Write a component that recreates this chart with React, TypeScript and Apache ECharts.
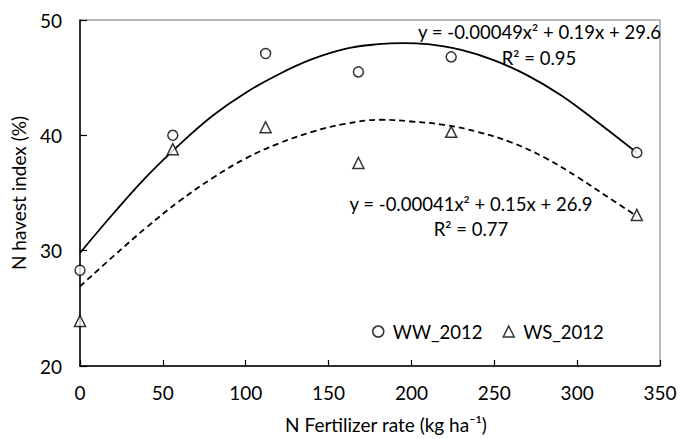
import React, { useEffect, useRef } from "react";
import * as echarts from "echarts";

const xRates = [0, 56, 112, 168, 224, 336];
const wwValues = [28.3, 40.0, 47.1, 45.5, 46.8, 38.5];
const wsValues = [23.9, 38.8, 40.7, 37.6, 40.3, 33.1];

const wwTrendX = [0, 20, 40, 60, 80, 100, 120, 140, 160, 180, 195, 210, 230, 250, 270, 290, 310, 336];
const wwTrend = [29.8, 33.2, 36.4, 39.2, 41.7, 43.7, 45.3, 46.6, 47.5, 47.9, 48.0, 47.9, 47.4, 46.5, 45.2, 43.5, 41.4, 38.5];
const wsTrendX = [0, 20, 40, 60, 80, 100, 120, 140, 160, 182, 200, 220, 240, 260, 280, 300, 320, 336];
const wsTrend = [26.9, 29.5, 32.0, 34.3, 36.3, 38.0, 39.3, 40.3, 41.0, 41.35, 41.2, 40.9, 40.3, 39.4, 38.1, 36.4, 34.5, 33.0];

const seriesNames = ["WW_2012", "WS_2012"];
const eqWW = "y = -0.00049x² + 0.19x + 29.6";
const r2WW = "R² = 0.95";
const eqWS = "y = -0.00041x² + 0.15x + 26.9";
const r2WS = "R² = 0.77";
const xTitle = "N Fertilizer rate (kg ha⁻¹)";
const yTitle = "N havest index (%)";

const FONT = "Lato";

export default function App() {
  const ref = useRef<HTMLDivElement>(null);
  useEffect(() => {
    if (!ref.current) return;
    const chart = echarts.init(ref.current, null, { renderer: "svg" });
    const pair = (xs: number[], ys: number[]) => xs.map((x, i) => [x, ys[i]]);
    const txt = { fontFamily: FONT, fontSize: 19, color: "#000" };
    const eqStyle = { fontFamily: FONT, fontSize: 18.5, fill: "#000" };
    chart.setOption({
      animation: false,
      backgroundColor: "#fff",
      textStyle: { fontFamily: FONT },
      grid: {
        left: 80,
        top: 20,
        width: 580,
        height: 348,
        show: true,
        borderColor: "#777",
        borderWidth: 1,
        containLabel: false,
      },
      xAxis: {
        type: "value",
        min: 0,
        max: 350,
        interval: 50,
        name: xTitle,
        nameLocation: "middle",
        nameGap: 49,
        nameTextStyle: { ...txt, padding: [0, 0, 0, 32] },
        axisLine: { lineStyle: { color: "#000", width: 1.5 } },
        axisTick: { inside: true, length: 6, lineStyle: { color: "#000", width: 1.2 } },
        axisLabel: { ...txt, margin: 17 },
        splitLine: { show: false },
      },
      yAxis: {
        type: "value",
        min: 20,
        max: 50,
        interval: 10,
        name: yTitle,
        nameLocation: "middle",
        nameGap: 52,
        nameTextStyle: { ...txt },
        axisLine: { lineStyle: { color: "#000", width: 1.5 } },
        axisTick: { inside: true, length: 7, lineStyle: { color: "#000", width: 1.2 } },
        axisLabel: { ...txt, margin: 18 },
        splitLine: { show: false },
      },
      legend: {
        left: 372,
        top: 322,
        padding: 0,
        itemWidth: 11,
        itemHeight: 11,
        itemGap: 20,
        textStyle: { fontFamily: FONT, fontSize: 18.5, color: "#000", padding: [0, 0, 0, 4] },
        data: [
          { name: seriesNames[0], icon: "circle", itemStyle: { color: "#fff", borderColor: "#000", borderWidth: 1.5 } },
          { name: seriesNames[1], icon: "triangle", itemStyle: { color: "#fff", borderColor: "#000", borderWidth: 1.5 } },
        ],
      },
      series: [
        {
          name: "WW trend",
          type: "line",
          data: pair(wwTrendX, wwTrend),
          smooth: 0.4,
          showSymbol: false,
          lineStyle: { color: "#000", width: 1.8 },
          z: 2,
        },
        {
          name: "WS trend",
          type: "line",
          data: pair(wsTrendX, wsTrend),
          smooth: 0.4,
          showSymbol: false,
          lineStyle: { color: "#000", width: 1.8, type: [6, 4] },
          z: 2,
        },
        {
          name: seriesNames[0],
          type: "scatter",
          data: pair(xRates, wwValues),
          symbol: "circle",
          symbolSize: 10,
          itemStyle: { color: "#fff", borderColor: "#000", borderWidth: 1.5 },
          z: 3,
        },
        {
          name: seriesNames[1],
          type: "scatter",
          data: pair(xRates, wsValues),
          symbol: "triangle",
          symbolSize: 11,
          itemStyle: { color: "#fff", borderColor: "#000", borderWidth: 1.5 },
          z: 3,
        },
      ],
      graphic: [
        { type: "text", x: 661, y: 32, style: { text: eqWW, ...eqStyle, align: "right", verticalAlign: "middle" }, z: 10 },
        { type: "text", x: 539, y: 58, style: { text: r2WW, ...eqStyle, align: "center", verticalAlign: "middle" }, z: 10 },
        { type: "text", x: 471, y: 204, style: { text: eqWS, ...eqStyle, align: "center", verticalAlign: "middle" }, z: 10 },
        { type: "text", x: 471, y: 229, style: { text: r2WS, ...eqStyle, align: "center", verticalAlign: "middle" }, z: 10 },
      ],
    });
    return () => chart.dispose();
  }, []);
  return (
    <div
      ref={ref}
      style={{ position: "fixed", left: 0, top: 0, width: 681, height: 439 }}
    />
  );
}
